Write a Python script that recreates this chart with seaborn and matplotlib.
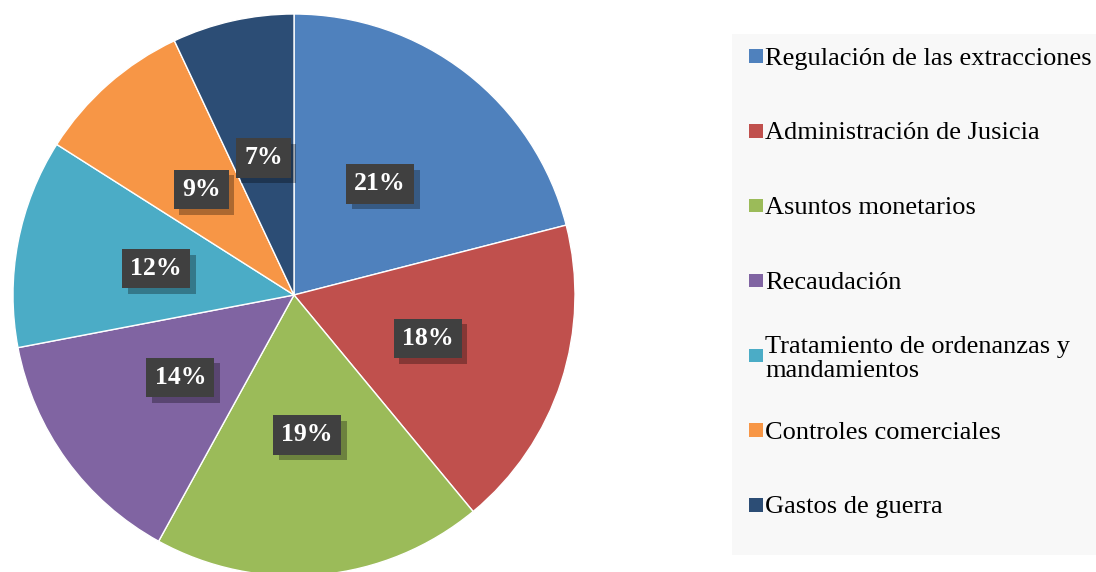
import matplotlib
matplotlib.use("Agg")
import matplotlib.pyplot as plt
import matplotlib.patheffects as pe
import seaborn as sns

categories = [
    "Regulación de las extracciones",
    "Administración de Jusicia",
    "Asuntos monetarios",
    "Recaudación",
    "Tratamiento de ordenanzas y\nmandamientos",
    "Controles comerciales",
    "Gastos de guerra",
]
shares = [21, 18, 19, 14, 12, 9, 7]
colors = ["#4F81BD", "#C0504D", "#9BBB59", "#8064A2", "#4BACC6", "#F79646", "#2C4D75"]

sns.set_theme(style="white")
plt.rcParams["font.family"] = ["Liberation Serif", "DejaVu Serif"]
palette = sns.color_palette(colors)

W, H = 1096, 572
fig = plt.figure(figsize=(W / 100, H / 100), dpi=100)
fig.patch.set_facecolor("white")

# pie axes: centre (294, 295), radius 281 px
cx, cy, r = 294, 295, 281
ax = fig.add_axes([(cx - r) / W, 1 - (cy + r) / H, 2 * r / W, 2 * r / H])
wedges, texts, autotexts = ax.pie(
    shares, colors=palette, startangle=90, counterclock=False,
    autopct="%1.0f%%", pctdistance=0.5,
    wedgeprops=dict(edgecolor="white", linewidth=1),
    textprops=dict(color="white", fontsize=18.5, fontweight="bold"),
)
ax.set_xlim(-1, 1)
ax.set_ylim(-1, 1)
ax.set_aspect("auto")
ax.axis("off")

for t in autotexts:
    t.set_bbox(dict(boxstyle="square,pad=0.32", facecolor="#404040", edgecolor="none"))
    t.get_bbox_patch().set_path_effects(
        [pe.SimplePatchShadow(offset=(4, -4), shadow_rgbFace="black", alpha=0.3), pe.Normal()]
    )

# legend panel
lx0, lx1, ly0, ly1 = 732, 1096, 34, 555
lax = fig.add_axes([lx0 / W, 1 - ly1 / H, (lx1 - lx0) / W, (ly1 - ly0) / H])
lax.set_facecolor("#f8f8f8")
for s in lax.spines.values():
    s.set_visible(False)
lax.set_xticks([])
lax.set_yticks([])
step = 74.8
lax.set_xlim(0, lx1 - lx0)
lax.set_ylim(6 + (ly1 - 505) / step, -(56 - ly0) / step)
rows = list(range(len(categories)))
lax.scatter([756 - lx0] * len(rows), rows, marker="s", s=95, c=palette, linewidths=0)
for i, lab in zip(rows, categories):
    lax.text(765 - lx0, i, lab, fontsize=19, color="black",
             va="center_baseline", ha="left", linespacing=1.15)

fig.savefig("out.png", dpi=100)
